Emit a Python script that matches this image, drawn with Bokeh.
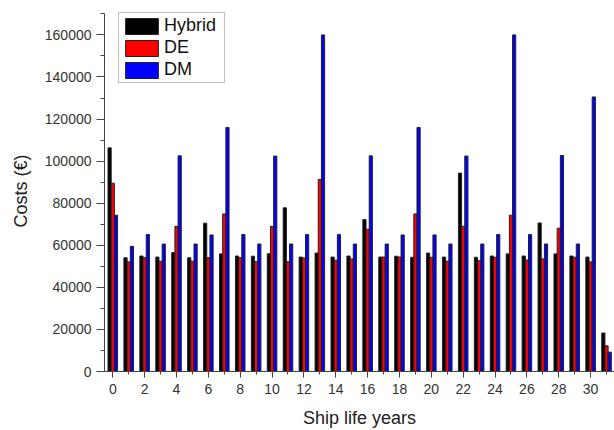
from bokeh.plotting import figure
from bokeh.models import ColumnDataSource, Range1d, FixedTicker, Legend, LegendItem
from bokeh.transform import dodge
from bokeh.embed import file_html
from bokeh.resources import INLINE

years = list(range(32))
hybrid = [106300, 54100, 54900, 54400, 56500, 54100, 70500, 55900, 54900, 54800,
          56000, 77800, 54400, 56300, 54400, 54900, 72200, 54400, 54800, 54300,
          56300, 54400, 94300, 54300, 54900, 55900, 54900, 70600, 55900, 54900,
          54400, 18300]
de = [89500, 52100, 54100, 52400, 69000, 52400, 54100, 74900, 54100, 52200,
      69000, 52200, 54000, 91300, 52900, 53500, 67600, 54400, 54400, 74900,
      54300, 52400, 69000, 52700, 54300, 74300, 53000, 53500, 68100, 54300,
      52100, 12200]
dm = [74300, 59500, 65100, 60600, 102500, 60600, 64900, 116000, 65100, 60600,
      102400, 60600, 65100, 160000, 65100, 60600, 102500, 60600, 64900, 116000,
      64900, 60600, 102400, 60600, 65100, 160000, 65100, 60600, 102700, 60600,
      130500, 9200]
series_names = ["Hybrid", "DE", "DM"]
series_colors = ["#000000", "#ff0000", "#0000ff"]
x_tick_values = list(range(0, 31, 2))
y_tick_values = list(range(0, 160001, 20000))

src = ColumnDataSource(dict(year=years, Hybrid=hybrid, DE=de, DM=dm))

FONT = "Liberation Sans"

p = figure(width=614, height=430, output_backend="svg", toolbar_location=None,
           x_range=Range1d(-0.52, 31.5), y_range=Range1d(0, 171600))
p.min_border_left = 104
p.min_border_right = 0
p.min_border_top = 10
p.min_border_bottom = 59
p.outline_line_color = None
p.grid.visible = False
p.background_fill_color = "white"
p.border_fill_color = "white"

renderers = []
for name, color, off in zip(series_names, series_colors, [-0.2, 0.0, 0.2]):
    r = p.vbar(x=dodge("year", off, range=p.x_range), top=name, width=0.2,
               source=src, fill_color=color, line_color="#222222", line_width=1)
    renderers.append((name, r))

xa = p.xaxis[0]
xa.ticker = FixedTicker(ticks=x_tick_values, minor_ticks=years)
xa.axis_label = "Ship life years"
xa.axis_label_text_font = FONT
xa.axis_label_text_font_size = "18px"
xa.axis_label_text_font_style = "normal"
xa.axis_label_text_color = "#222222"
xa.axis_label_standoff = 11
xa.major_label_text_font = FONT
xa.major_label_text_font_size = "14px"
xa.major_label_text_color = "#333333"
xa.major_label_standoff = 6
xa.major_tick_out = 6
xa.major_tick_in = 0
xa.minor_tick_out = 3
xa.minor_tick_in = 0
xa.axis_line_color = "#444444"
xa.major_tick_line_color = "#444444"
xa.minor_tick_line_color = "#444444"

ya = p.yaxis[0]
ya.ticker = FixedTicker(ticks=y_tick_values, minor_ticks=list(range(0, 170001, 10000)))
ya.bounds = (0, 170000)
ya.axis_label = "Costs (€)"
ya.axis_label_text_font = FONT
ya.axis_label_text_font_size = "18px"
ya.axis_label_text_font_style = "normal"
ya.axis_label_text_color = "#222222"
ya.axis_label_standoff = 11
ya.major_label_text_font = FONT
ya.major_label_text_font_size = "14px"
ya.major_label_text_color = "#333333"
ya.major_label_standoff = 5
ya.major_tick_out = 8
ya.major_tick_in = 0
ya.minor_tick_out = 4
ya.minor_tick_in = 0
ya.axis_line_color = "#444444"
ya.major_tick_line_color = "#444444"
ya.minor_tick_line_color = "#444444"
ya.formatter.use_scientific = False

legend = Legend(items=[LegendItem(label=n, renderers=[r]) for n, r in renderers],
                location=(14, 288))
legend.glyph_width = 41
legend.glyph_height = 20
legend.spacing = 1
legend.padding = 2
legend.margin = 0
legend.label_standoff = 2
legend.label_width = 58
legend.label_text_font = FONT
legend.label_text_font_size = "18px"
legend.label_text_color = "#111111"
legend.label_height = 20
legend.border_line_color = "#808080"
legend.border_line_width = 1
legend.background_fill_alpha = 1
p.add_layout(legend, "center")

open("out.html", "w").write(file_html(p, INLINE))
